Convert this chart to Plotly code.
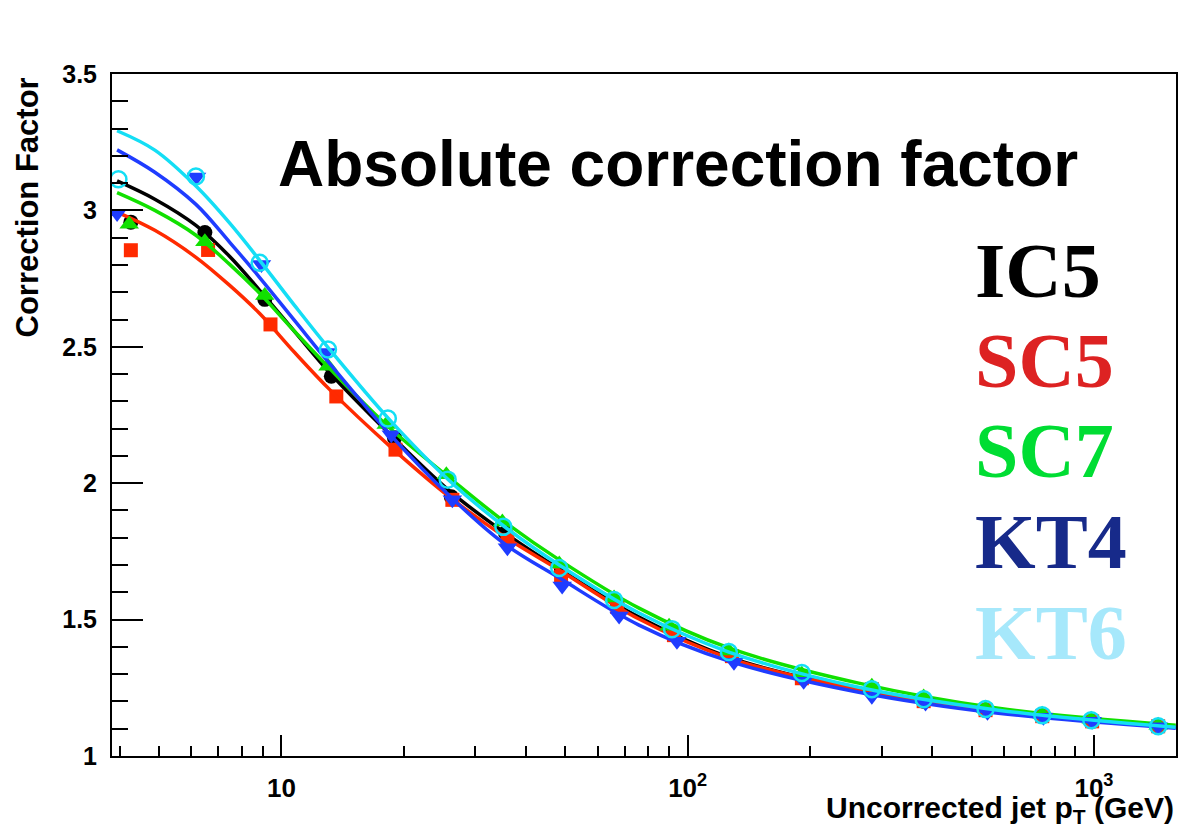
import plotly.graph_objects as go

# ---- measured points: mean uncorrected jet pT (GeV) and correction factor ----
ic5_pt = [4.26, 6.48, 9.10, 13.27, 18.98, 26.2, 35.6, 48.8, 67.1, 92.5, 128.5, 191, 284, 381, 541, 746, 990, 1439]
ic5_cf = [2.957, 2.919, 2.674, 2.392, 2.167, 1.950, 1.818, 1.675, 1.553, 1.447, 1.366, 1.289, 1.245, 1.201, 1.168, 1.146, 1.127, 1.109]

sc5_pt = [4.26, 6.60, 9.40, 13.65, 19.09, 26.35, 36.0, 48.8, 67.1, 92.5, 128.5, 191, 284, 381, 541, 746, 990, 1439]
sc5_cf = [2.854, 2.855, 2.582, 2.318, 2.123, 1.939, 1.792, 1.656, 1.546, 1.443, 1.366, 1.285, 1.245, 1.201, 1.168, 1.146, 1.127, 1.109]

sc7_pt = [4.22, 6.48, 9.10, 13.02, 18.11, 25.47, 34.98, 48.3, 65.9, 90.0, 126.3, 191, 284, 381, 541, 746, 985, 1439]
sc7_cf = [2.949, 2.885, 2.688, 2.429, 2.215, 2.031, 1.858, 1.704, 1.579, 1.476, 1.385, 1.300, 1.256, 1.216, 1.175, 1.153, 1.135, 1.113]

kt4_pt = [3.94, 6.18, 8.93, 12.90, 18.64, 26.35, 36.0, 49.1, 67.8, 94.1, 130, 193, 284, 385, 547, 751, 990, 1439]
kt4_cf = [2.989, 3.122, 2.802, 2.479, 2.178, 1.939, 1.763, 1.623, 1.513, 1.421, 1.344, 1.274, 1.219, 1.194, 1.160, 1.142, 1.127, 1.107]

kt6_pt = [3.97, 6.16, 8.84, 13.02, 18.28, 25.66, 35.18, 48.3, 65.9, 91.5, 126.3, 191, 284, 381, 541, 746, 985, 1439]
kt6_cf = [3.114, 3.124, 2.808, 2.490, 2.237, 2.013, 1.840, 1.689, 1.572, 1.465, 1.381, 1.304, 1.245, 1.208, 1.172, 1.149, 1.131, 1.109]

# ---- fitted response curves, sampled along pT ----
fit_pt = [3.94, 4.88, 6.16, 7.46, 8.84, 10.78, 13.15, 18.45, 25.92, 35.18,
          48.29, 75.9, 126.3, 263.6, 582, 1590]
ic5_fit = [3.108, 3.041, 2.945, 2.831, 2.707, 2.556, 2.405, 2.181, 1.972, 1.822,
           1.686, 1.509, 1.362, 1.245, 1.164, 1.105]
sc5_fit = [2.994, 2.927, 2.828, 2.725, 2.622, 2.479, 2.343, 2.137, 1.950, 1.807,
           1.682, 1.502, 1.359, 1.245, 1.164, 1.105]
sc7_fit = [3.065, 3.000, 2.909, 2.802, 2.696, 2.556, 2.420, 2.203, 2.020, 1.862,
           1.719, 1.542, 1.396, 1.267, 1.175, 1.113]
kt4_fit = [3.222, 3.140, 3.022, 2.883, 2.754, 2.596, 2.438, 2.181, 1.954, 1.781,
           1.653, 1.480, 1.348, 1.234, 1.157, 1.102]
kt6_fit = [3.292, 3.221, 3.089, 2.953, 2.817, 2.651, 2.490, 2.233, 2.009, 1.844,
           1.700, 1.524, 1.381, 1.252, 1.168, 1.105]

# ---- axis ticks ----
y_ticks = [1, 1.5, 2, 2.5, 3, 3.5]
y_ticktext = ["1", "1.5", "2", "2.5", "3", "3.5"]
x_ticks = [10, 100, 1000]
x_ticktext = ["10", "10<sup>2</sup>", "10<sup>3</sup>"]
x_minor = [4, 5, 6, 7, 8, 9, 20, 30, 40, 50, 60, 70, 80, 90,
           200, 300, 400, 500, 600, 700, 800, 900]

algos = ["IC5", "SC5", "SC7", "KT4", "KT6"]
label_colors = ["#000000", "#dd2222", "#00dd33", "#172a8a", "#a6e8fb"]

series = [
    (ic5_pt, ic5_cf, ic5_fit, "#000000", dict(symbol="circle", size=15)),
    (sc5_pt, sc5_cf, sc5_fit, "#ff2a00", dict(symbol="square", size=14)),
    (sc7_pt, sc7_cf, sc7_fit, "#11e000", dict(symbol="triangle-up", size=17)),
    (kt4_pt, kt4_cf, kt4_fit, "#1f3cff", dict(symbol="triangle-down", size=17)),
    (kt6_pt, kt6_cf, kt6_fit, "#14def5", dict(symbol="circle-open", size=16,
                                               line=dict(width=2.5))),
]

fig = go.Figure()
for pt, cf, fit, col, mk in series:
    fig.add_trace(go.Scatter(x=pt, y=cf, mode="markers",
                             marker=dict(color=col, **mk), showlegend=False))
    fig.add_trace(go.Scatter(x=fit_pt, y=fit, mode="lines",
                             line=dict(color=col, width=3.5, shape="spline", smoothing=1.0),
                             showlegend=False))

FONT_SANS = "Liberation Sans, Arial, Helvetica, sans-serif"
FONT_SERIF = "Liberation Serif, Times New Roman, serif"

fig.update_layout(
    width=1189, height=840,
    margin=dict(l=112, r=11, t=74, b=84),
    paper_bgcolor="white", plot_bgcolor="white",
    font=dict(family=FONT_SANS, color="black"),
    showlegend=False,
)

fig.update_xaxes(
    type="log", range=[0.583, 3.202],
    showline=True, linecolor="black", linewidth=2, mirror=True,
    showgrid=False, zeroline=False,
    ticks="inside", ticklen=21, tickwidth=1.5, tickcolor="black",
    tickvals=x_ticks, ticktext=x_ticktext,
    tickfont=dict(family=FONT_SANS, size=26, color="black", weight="bold"),
    ticklabelstandoff=8,
    minor=dict(tickvals=x_minor, ticks="inside", ticklen=10, tickwidth=1.5,
               tickcolor="black", showgrid=False),
)
fig.update_yaxes(
    range=[1, 3.5],
    showline=True, linecolor="black", linewidth=2, mirror=True,
    showgrid=False, zeroline=False,
    ticks="inside", ticklen=31, tickwidth=1.5, tickcolor="black",
    tickvals=y_ticks, ticktext=y_ticktext,
    tickfont=dict(family=FONT_SANS, size=25, color="black", weight="bold"),
    ticklabelstandoff=8,
    minor=dict(dtick=0.1, tick0=1, ticks="inside", ticklen=16, tickwidth=1.5,
               tickcolor="black", showgrid=False),
)

# axis titles
fig.add_annotation(text="Correction Factor", xref="paper", yref="paper",
                   x=-0.0785, y=0.805, textangle=-90, showarrow=False,
                   xanchor="center", yanchor="middle",
                   font=dict(family=FONT_SANS, size=31, color="black", weight="bold"))
fig.add_annotation(text="Uncorrected jet p<sub>T</sub> (GeV)", xref="paper", yref="paper",
                   x=1.0, y=-0.078, showarrow=False, xanchor="right", yanchor="middle",
                   font=dict(family=FONT_SANS, size=30, color="black", weight="bold"))

# headline
fig.add_annotation(text="Absolute correction factor", xref="paper", yref="paper",
                   x=0.1538, y=0.868, showarrow=False, xanchor="left", yanchor="middle",
                   font=dict(family=FONT_SANS, size=64, color="black", weight="bold"))

# algorithm labels
label_y = [0.7125, 0.5805, 0.4484, 0.315, 0.1815]
for name, col, yy in zip(algos, label_colors, label_y):
    fig.add_annotation(text=name, xref="paper", yref="paper", x=0.8096, y=yy,
                       showarrow=False, xanchor="left", yanchor="middle",
                       font=dict(family=FONT_SERIF, size=78, color=col, weight="bold"))

fig.write_html("out.html")
